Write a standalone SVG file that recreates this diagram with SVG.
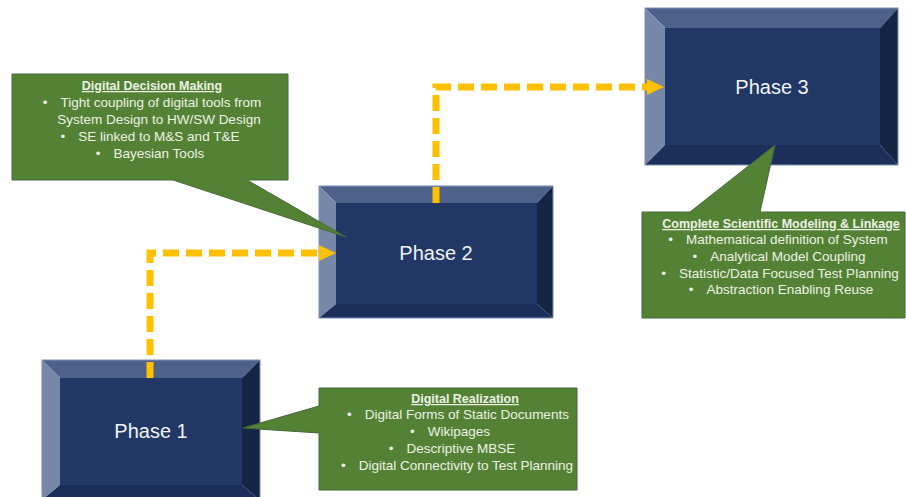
<svg xmlns="http://www.w3.org/2000/svg" width="906" height="497" viewBox="0 0 906 497">
<defs>
<style>
.top{fill:#4e618a}.lft{fill:#7787a7}.rgt{fill:#152544}.bot{fill:#1c2f5a}.face{fill:#213866}
.edge{fill:none;stroke:#7d90b3;stroke-width:1}
.ptxt{font-family:"Liberation Sans",Arial,sans-serif;font-size:20px;fill:#f2f2f2;text-anchor:middle}
.call{fill:#548235;stroke:#46683a;stroke-width:1}
.ctxt{font-family:"Liberation Sans",Arial,sans-serif;font-size:13.5px;fill:#eef0e6;text-anchor:middle}
.ttl{font-weight:bold;text-decoration:underline;font-size:12.5px}
.conn{fill:none;stroke:#ffc000;stroke-width:7;stroke-dasharray:16 7;stroke-linejoin:miter}
.head{fill:#ffc000}
</style>
</defs>
<rect width="906" height="497" fill="#ffffff"/>

<g id="phase1">
<rect class="face" x="60" y="378" width="182" height="107"/>
<polygon class="top" points="42,360 260,360 242,378 60,378"/>
<polygon class="lft" points="42,360 60,378 60,485 42,500"/>
<polygon class="rgt" points="260,360 260,500 242,485 242,378"/>
<polygon class="bot" points="42,500 60,485 242,485 260,500"/>
<rect class="edge" x="42" y="360" width="218" height="140"/>
<text class="ptxt" x="151" y="438">Phase 1</text>
</g>

<g id="phase2">
<rect class="face" x="336" y="203" width="201" height="101"/>
<polygon class="top" points="319,186 553,186 537,203 336,203"/>
<polygon class="lft" points="319,186 336,203 336,304 319,318"/>
<polygon class="rgt" points="553,186 553,318 537,304 537,203"/>
<polygon class="bot" points="319,318 336,304 537,304 553,318"/>
<rect class="edge" x="319" y="186" width="234" height="132"/>
<text class="ptxt" x="436" y="260">Phase 2</text>
</g>

<g id="phase3">
<rect class="face" x="665" y="28" width="215" height="117"/>
<polygon class="top" points="645,8 898,8 880,28 665,28"/>
<polygon class="lft" points="645,8 665,28 665,145 645,165"/>
<polygon class="rgt" points="898,8 898,165 880,145 880,28"/>
<polygon class="bot" points="645,165 665,145 880,145 898,165"/>
<rect class="edge" x="645" y="8" width="253" height="157"/>
<text class="ptxt" x="772" y="94">Phase 3</text>
</g>

<g id="connectors">
<path class="conn" d="M150,378 V253 H320"/>
<polygon class="head" points="319,245 336,253 319,261"/>
<path class="conn" d="M436,203 V87 H648"/>
<polygon class="head" points="647,79 664,87 647,95"/>
</g>

<g id="callout-decision">
<path class="call" d="M12,74 H288 V180 H247 L346,237 L173,180 H12 Z"/>
<text class="ctxt ttl" x="152" y="90">Digital Decision Making</text>
<text class="ctxt" x="152" y="107"><tspan>•</tspan><tspan dx="13">Tight coupling of digital tools from</tspan></text>
<text class="ctxt" x="159" y="124">System Design to HW/SW Design</text>
<text class="ctxt" x="150" y="141"><tspan>•</tspan><tspan dx="13">SE linked to M&amp;S and T&amp;E</tspan></text>
<text class="ctxt" x="150" y="158"><tspan>•</tspan><tspan dx="13">Bayesian Tools</tspan></text>
</g>

<g id="callout-scientific">
<path class="call" d="M642,212 H690 L775,145 L760,212 H905 V318 H642 Z"/>
<text class="ctxt ttl" x="781" y="228">Complete Scientific Modeling &amp; Linkage</text>
<text class="ctxt" x="778" y="244"><tspan>•</tspan><tspan dx="13">Mathematical definition of System</tspan></text>
<text class="ctxt" x="779" y="261"><tspan>•</tspan><tspan dx="13">Analytical Model Coupling</tspan></text>
<text class="ctxt" x="780" y="278"><tspan>•</tspan><tspan dx="13">Statistic/Data Focused Test Planning</tspan></text>
<text class="ctxt" x="781" y="294"><tspan>•</tspan><tspan dx="13">Abstraction Enabling Reuse</tspan></text>
</g>

<g id="callout-realization">
<path class="call" d="M319,388 H577 V490 H319 V433 L243,428 L319,406 Z"/>
<text class="ctxt ttl" x="465" y="403">Digital Realization</text>
<text class="ctxt" x="458" y="419"><tspan>•</tspan><tspan dx="13">Digital Forms of Static Documents</tspan></text>
<text class="ctxt" x="450" y="436"><tspan>•</tspan><tspan dx="13">Wikipages</tspan></text>
<text class="ctxt" x="452" y="453"><tspan>•</tspan><tspan dx="13">Descriptive MBSE</tspan></text>
<text class="ctxt" x="457" y="470"><tspan>•</tspan><tspan dx="13">Digital Connectivity to Test Planning</tspan></text>
</g>
</svg>
